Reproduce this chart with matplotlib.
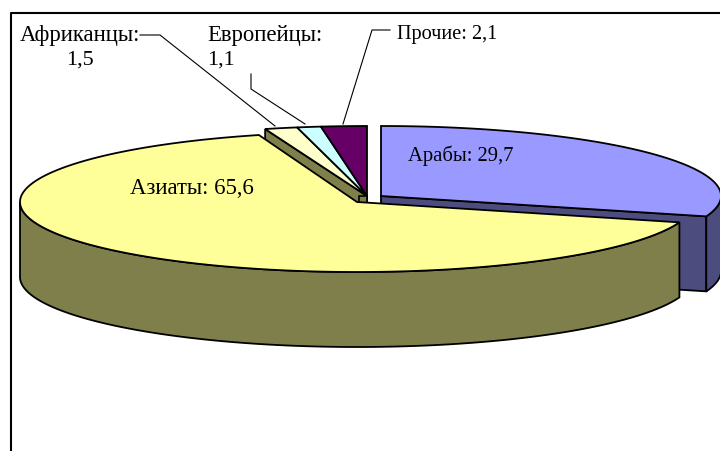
import numpy as np
import matplotlib
matplotlib.use("Agg")
import matplotlib.pyplot as plt

names = ["Арабы", "Азиаты", "Африканцы", "Европейцы", "Прочие"]
values = [29.7, 65.6, 1.5, 1.1, 2.1]
top_colors = ["#9999FF", "#FFFF99", "#FFFFCC", "#CCFFFF", "#660066"]
side_colors = ["#4C4C7F", "#7F7F4C", "#7F7F66", "#667F7F", "#330033"]

# ----- pie geometry (pixels) ----- #
RY, DEPTH = 70, 75
radii = [340, 337, 350, 350, 350]
centres = [(381, 197), (357, 203), (367, 197), (367, 197), (367, 197)]

edges = np.cumsum([0] + values) / sum(values) * 360


def arc(i, a0, a1, dy=0):
    c = centres[i]
    t = np.radians(np.linspace(a0, a1, 200))
    return np.column_stack([c[0] + radii[i] * np.sin(t), c[1] - RY * np.cos(t) + dy])


def poly(ax, pts, color, lw=1.3):
    ax.fill(pts[:, 0], pts[:, 1], facecolor=color, edgecolor="black", linewidth=lw, joinstyle="miter")


fig = plt.figure(figsize=(7.2, 4.52), dpi=100)
ax = fig.add_axes([0, 0, 1, 1])
ax.set_xlim(0, 720)
ax.set_ylim(452, 0)
ax.axis("off")

# ----- frame ----- #
ax.plot([11, 11, 720], [452, 14, 14], color="black", lw=1.5)

# Arabs walls
c = centres[0]
a1 = edges[1]
p = arc(0, 0, a1)[-1]
poly(ax, np.array([c, p, p + [0, DEPTH], [c[0], c[1] + DEPTH]]), side_colors[0])
poly(ax, np.vstack([arc(0, 90, a1), arc(0, a1, 90, DEPTH)]), side_colors[0])

# small slices: radial wall and the stub under the apex
c = centres[2]
p = arc(2, edges[2], edges[3])[0]
poly(ax, np.array([c, p, p + [0, DEPTH], [c[0], c[1] + DEPTH]]), side_colors[1])
ax.fill([c[0] - 8, c[0], c[0], c[0] - 8], [c[1], c[1], c[1] + 14, c[1] + 14], facecolor=side_colors[1], edgecolor="black", linewidth=1.2)

# Asians wall, then tops
poly(ax, np.vstack([arc(1, edges[1], 270), arc(1, 270, edges[1], DEPTH)]), side_colors[1])
for i in [1, 2, 3, 4, 0]:
    poly(ax, np.vstack([[centres[i]], arc(i, edges[i], edges[i + 1])]), top_colors[i])

# ----- leader lines ----- #
leader_x = [[140, 160, 275], [251, 251, 305], [390, 372, 343]]
leader_y = [[36, 36, 127], [75, 90, 125], [31, 31, 125]]
for lx, ly in zip(leader_x, leader_y):
    ax.plot(lx, ly, color="black", lw=0.8)

# ----- labels ----- #
def fmt(v):
    return f"{v}".replace(".", ",")


font = dict(family="Liberation Serif", color="black", va="center")
ax.text(408, 156, f"{names[0]}: {fmt(values[0])}", ha="left", fontsize=14.9, **font)
ax.text(130, 189, f"{names[1]}: {fmt(values[1])}", ha="left", fontsize=16.4, **font)
ax.text(80, 36, f"{names[2]}:", ha="center", fontsize=16.4, **font)
ax.text(80, 60, fmt(values[2]), ha="center", fontsize=16, **font)
ax.text(207, 36, f"{names[3]}:", ha="left", fontsize=16.4, **font)
ax.text(207, 60, fmt(values[3]), ha="left", fontsize=16, **font)
ax.text(397, 35, f"{names[4]}: {fmt(values[4])}", ha="left", fontsize=14.6, **font)

fig.savefig("out.png", dpi=100)
